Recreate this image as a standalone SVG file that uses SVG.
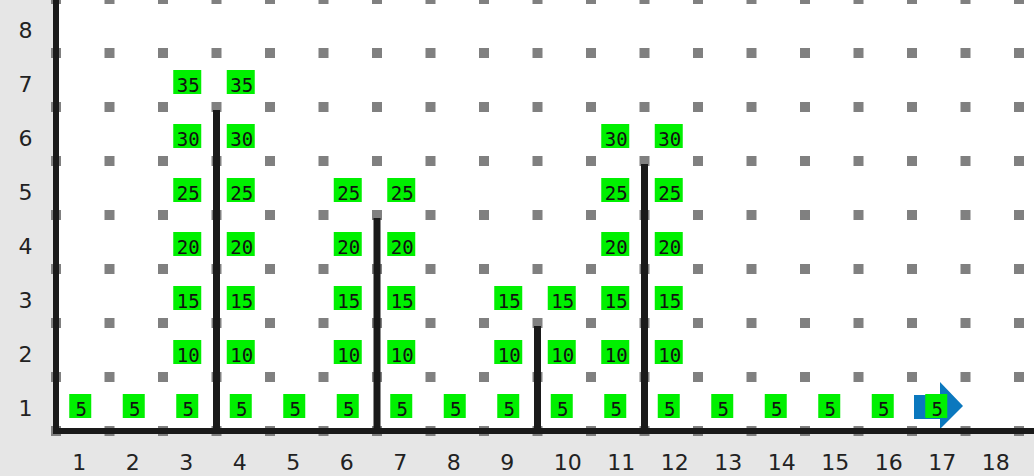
<svg xmlns="http://www.w3.org/2000/svg" xmlns:xlink="http://www.w3.org/1999/xlink" width="1034" height="476" viewBox="0 0 1034 476">
<style>
.panel{fill:#e6e6e6}
.dot{fill:#808080}
.ax{fill:#1a1a1a}
.bar{fill:#1a1a1a}
.box{fill:#00f000}
.lb text{font-family:"DejaVu Sans Mono",monospace;font-size:19px;fill:#111;text-anchor:middle}
.yl{font-family:"DejaVu Sans",sans-serif;font-size:22px;fill:#222;text-anchor:middle}
.xl{font-family:"DejaVu Sans",sans-serif;font-size:22px;fill:#222}
.arrow{fill:#0b78be}
</style>
<defs>
<g id="dotrow">
<rect class="dot" x="51" y="0" width="10" height="10"/><rect class="dot" x="104.5" y="0" width="10" height="10"/><rect class="dot" x="158" y="0" width="10" height="10"/><rect class="dot" x="211.5" y="0" width="10" height="10"/><rect class="dot" x="265" y="0" width="10" height="10"/><rect class="dot" x="318.5" y="0" width="10" height="10"/><rect class="dot" x="372" y="0" width="10" height="10"/><rect class="dot" x="425.5" y="0" width="10" height="10"/><rect class="dot" x="479" y="0" width="10" height="10"/><rect class="dot" x="532.5" y="0" width="10" height="10"/><rect class="dot" x="586" y="0" width="10" height="10"/><rect class="dot" x="639.5" y="0" width="10" height="10"/><rect class="dot" x="693" y="0" width="10" height="10"/><rect class="dot" x="746.5" y="0" width="10" height="10"/><rect class="dot" x="800" y="0" width="10" height="10"/><rect class="dot" x="853.5" y="0" width="10" height="10"/><rect class="dot" x="907" y="0" width="10" height="10"/><rect class="dot" x="960.5" y="0" width="10" height="10"/><rect class="dot" x="1014" y="0" width="10" height="10"/>
</g>
<rect id="s" class="box" x="-11" y="-12" width="22" height="24"/>
<rect id="d" class="box" x="-14" y="-12" width="28" height="24"/>
</defs>
<rect x="0" y="0" width="1034" height="476" fill="#ffffff"/>
<rect class="panel" x="0" y="0" width="53" height="476"/>
<rect class="panel" x="0" y="434" width="1034" height="42"/>
<g id="grid">
<use xlink:href="#dotrow" y="-6"/><use xlink:href="#dotrow" y="48"/><use xlink:href="#dotrow" y="102"/><use xlink:href="#dotrow" y="156"/><use xlink:href="#dotrow" y="210"/><use xlink:href="#dotrow" y="264"/><use xlink:href="#dotrow" y="318"/><use xlink:href="#dotrow" y="372"/><use xlink:href="#dotrow" y="426"/>
</g>
<g id="cursor"><polygon class="arrow" points="914,395 940,395 940,382 963,406 940,429 940,419 914,419"/></g>
<g id="connectors">
<rect class="ax" x="53" y="0" width="6" height="434"/>
<rect class="ax" x="53" y="428" width="981" height="6"/>
<rect class="bar" x="213" y="110" width="7" height="321"/>
<rect class="bar" x="373.5" y="218" width="7" height="213"/>
<rect class="bar" x="534" y="326" width="7" height="105"/>
<rect class="bar" x="641" y="164" width="7" height="267"/>
</g>
<g id="yaxis-labels">
<text class="yl" x="25.5" y="37.5">8</text>
<text class="yl" x="25.5" y="91.5">7</text>
<text class="yl" x="25.5" y="145.5">6</text>
<text class="yl" x="25.5" y="199.5">5</text>
<text class="yl" x="25.5" y="253.5">4</text>
<text class="yl" x="25.5" y="307.5">3</text>
<text class="yl" x="25.5" y="361.5">2</text>
<text class="yl" x="25.5" y="415.5">1</text>
</g>
<g id="xaxis-labels">
<text class="xl" x="72.25" y="470">1</text>
<text class="xl" x="125.75" y="470">2</text>
<text class="xl" x="179.25" y="470">3</text>
<text class="xl" x="232.75" y="470">4</text>
<text class="xl" x="286.25" y="470">5</text>
<text class="xl" x="339.75" y="470">6</text>
<text class="xl" x="393.25" y="470">7</text>
<text class="xl" x="446.75" y="470">8</text>
<text class="xl" x="500.25" y="470">9</text>
<text class="xl" x="553.75" y="470">10</text>
<text class="xl" x="607.25" y="470">11</text>
<text class="xl" x="660.75" y="470">12</text>
<text class="xl" x="714.25" y="470">13</text>
<text class="xl" x="767.75" y="470">14</text>
<text class="xl" x="821.25" y="470">15</text>
<text class="xl" x="874.75" y="470">16</text>
<text class="xl" x="928.25" y="470">17</text>
<text class="xl" x="981.75" y="470">18</text>
</g>
<g id="labels">
<g id="c1r1" class="lb" transform="translate(80.25 406)"><use xlink:href="#s"/><text x="1" y="10">5</text></g>
<g id="c2r1" class="lb" transform="translate(133.75 406)"><use xlink:href="#s"/><text x="1" y="10">5</text></g>
<g id="c3r1" class="lb" transform="translate(187.25 406)"><use xlink:href="#s"/><text x="1" y="10">5</text></g>
<g id="c4r1" class="lb" transform="translate(240.75 406)"><use xlink:href="#s"/><text x="1" y="10">5</text></g>
<g id="c5r1" class="lb" transform="translate(294.25 406)"><use xlink:href="#s"/><text x="1" y="10">5</text></g>
<g id="c6r1" class="lb" transform="translate(347.75 406)"><use xlink:href="#s"/><text x="1" y="10">5</text></g>
<g id="c7r1" class="lb" transform="translate(401.25 406)"><use xlink:href="#s"/><text x="1" y="10">5</text></g>
<g id="c8r1" class="lb" transform="translate(454.75 406)"><use xlink:href="#s"/><text x="1" y="10">5</text></g>
<g id="c9r1" class="lb" transform="translate(508.25 406)"><use xlink:href="#s"/><text x="1" y="10">5</text></g>
<g id="c10r1" class="lb" transform="translate(561.75 406)"><use xlink:href="#s"/><text x="1" y="10">5</text></g>
<g id="c11r1" class="lb" transform="translate(615.25 406)"><use xlink:href="#s"/><text x="1" y="10">5</text></g>
<g id="c12r1" class="lb" transform="translate(668.75 406)"><use xlink:href="#s"/><text x="1" y="10">5</text></g>
<g id="c13r1" class="lb" transform="translate(722.25 406)"><use xlink:href="#s"/><text x="1" y="10">5</text></g>
<g id="c14r1" class="lb" transform="translate(775.75 406)"><use xlink:href="#s"/><text x="1" y="10">5</text></g>
<g id="c15r1" class="lb" transform="translate(829.25 406)"><use xlink:href="#s"/><text x="1" y="10">5</text></g>
<g id="c16r1" class="lb" transform="translate(882.75 406)"><use xlink:href="#s"/><text x="1" y="10">5</text></g>
<g id="c17r1" class="lb" transform="translate(936.25 406)"><use xlink:href="#s"/><text x="1" y="10">5</text></g>

<g id="c3r2" class="lb" transform="translate(187.25 352)"><use xlink:href="#d"/><text x="1" y="10">10</text></g>
<g id="c4r2" class="lb" transform="translate(240.75 352)"><use xlink:href="#d"/><text x="1" y="10">10</text></g>
<g id="c6r2" class="lb" transform="translate(347.75 352)"><use xlink:href="#d"/><text x="1" y="10">10</text></g>
<g id="c7r2" class="lb" transform="translate(401.25 352)"><use xlink:href="#d"/><text x="1" y="10">10</text></g>
<g id="c9r2" class="lb" transform="translate(508.25 352)"><use xlink:href="#d"/><text x="1" y="10">10</text></g>
<g id="c10r2" class="lb" transform="translate(561.75 352)"><use xlink:href="#d"/><text x="1" y="10">10</text></g>
<g id="c11r2" class="lb" transform="translate(615.25 352)"><use xlink:href="#d"/><text x="1" y="10">10</text></g>
<g id="c12r2" class="lb" transform="translate(668.75 352)"><use xlink:href="#d"/><text x="1" y="10">10</text></g>

<g id="c3r3" class="lb" transform="translate(187.25 298)"><use xlink:href="#d"/><text x="1" y="10">15</text></g>
<g id="c4r3" class="lb" transform="translate(240.75 298)"><use xlink:href="#d"/><text x="1" y="10">15</text></g>
<g id="c6r3" class="lb" transform="translate(347.75 298)"><use xlink:href="#d"/><text x="1" y="10">15</text></g>
<g id="c7r3" class="lb" transform="translate(401.25 298)"><use xlink:href="#d"/><text x="1" y="10">15</text></g>
<g id="c9r3" class="lb" transform="translate(508.25 298)"><use xlink:href="#d"/><text x="1" y="10">15</text></g>
<g id="c10r3" class="lb" transform="translate(561.75 298)"><use xlink:href="#d"/><text x="1" y="10">15</text></g>
<g id="c11r3" class="lb" transform="translate(615.25 298)"><use xlink:href="#d"/><text x="1" y="10">15</text></g>
<g id="c12r3" class="lb" transform="translate(668.75 298)"><use xlink:href="#d"/><text x="1" y="10">15</text></g>

<g id="c3r4" class="lb" transform="translate(187.25 244)"><use xlink:href="#d"/><text x="1" y="10">20</text></g>
<g id="c4r4" class="lb" transform="translate(240.75 244)"><use xlink:href="#d"/><text x="1" y="10">20</text></g>
<g id="c6r4" class="lb" transform="translate(347.75 244)"><use xlink:href="#d"/><text x="1" y="10">20</text></g>
<g id="c7r4" class="lb" transform="translate(401.25 244)"><use xlink:href="#d"/><text x="1" y="10">20</text></g>
<g id="c11r4" class="lb" transform="translate(615.25 244)"><use xlink:href="#d"/><text x="1" y="10">20</text></g>
<g id="c12r4" class="lb" transform="translate(668.75 244)"><use xlink:href="#d"/><text x="1" y="10">20</text></g>

<g id="c3r5" class="lb" transform="translate(187.25 190)"><use xlink:href="#d"/><text x="1" y="10">25</text></g>
<g id="c4r5" class="lb" transform="translate(240.75 190)"><use xlink:href="#d"/><text x="1" y="10">25</text></g>
<g id="c6r5" class="lb" transform="translate(347.75 190)"><use xlink:href="#d"/><text x="1" y="10">25</text></g>
<g id="c7r5" class="lb" transform="translate(401.25 190)"><use xlink:href="#d"/><text x="1" y="10">25</text></g>
<g id="c11r5" class="lb" transform="translate(615.25 190)"><use xlink:href="#d"/><text x="1" y="10">25</text></g>
<g id="c12r5" class="lb" transform="translate(668.75 190)"><use xlink:href="#d"/><text x="1" y="10">25</text></g>

<g id="c3r6" class="lb" transform="translate(187.25 136)"><use xlink:href="#d"/><text x="1" y="10">30</text></g>
<g id="c4r6" class="lb" transform="translate(240.75 136)"><use xlink:href="#d"/><text x="1" y="10">30</text></g>
<g id="c11r6" class="lb" transform="translate(615.25 136)"><use xlink:href="#d"/><text x="1" y="10">30</text></g>
<g id="c12r6" class="lb" transform="translate(668.75 136)"><use xlink:href="#d"/><text x="1" y="10">30</text></g>

<g id="c3r7" class="lb" transform="translate(187.25 82)"><use xlink:href="#d"/><text x="1" y="10">35</text></g>
<g id="c4r7" class="lb" transform="translate(240.75 82)"><use xlink:href="#d"/><text x="1" y="10">35</text></g>
</g>
</svg>
